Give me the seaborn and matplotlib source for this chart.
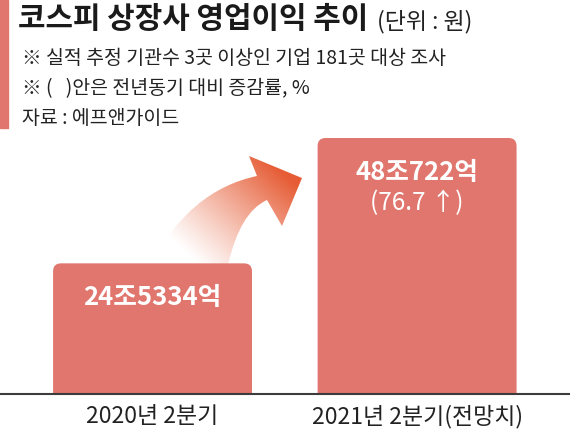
import numpy as np
import matplotlib
matplotlib.use('Agg')
import matplotlib.pyplot as plt
import matplotlib.colors as mcolors
import seaborn as sns
from matplotlib.path import Path
from matplotlib.patches import PathPatch, FancyBboxPatch, Rectangle

# data (조원)
periods = ['2020년 2분기', '2021년 2분기(전망치)']
profit = [24.5334, 48.0722]
profit_labels = ['24조5334억', '48조722억']
growth_labels = ['', '(76.7 ↑)']

title = '코스피 상장사 영업이익 추이'
unit = '(단위 : 원)'
notes = ['※ 실적 추정 기관수 3곳 이상인 기업 181곳 대상 조사',
         '※ (   )안은 전년동기 대비 증감률, %',
         '자료 : 에프앤가이드']

sns.set_theme(style='white')
plt.rcParams['font.family'] = ['Noto Sans CJK KR', 'DejaVu Sans']

bar_color = '#E0766E'
arrow_color = '#E65C35'
W, H = 570, 436

fig = plt.figure(figsize=(5.7, 4.36), dpi=100)

# decoration layer in pixel coordinates
deco = fig.add_axes([0, 0, 1, 1], zorder=0)
deco.axis('off')

# main chart
ax = fig.add_axes([0, 42 / H, 1, 256 / H], zorder=1)
ax.patch.set_alpha(0)
sns.barplot(x=periods, y=profit, color=bar_color, width=0.752, saturation=1, ax=ax)

# rounded top corners
for p in list(ax.patches):
    x0, w, h = p.get_x(), p.get_width(), p.get_height()
    ax.add_patch(FancyBboxPatch((x0, -5), w, h + 5,
                                boxstyle='round,pad=0,rounding_size=0.03',
                                mutation_aspect=50, fc=bar_color, ec='none'))
    p.remove()

ax.set_xlim(-0.5766, 1.578)
ax.set_ylim(0, profit[1])
ax.set_yticks([])
ax.set_xlabel('')
ax.set_ylabel('')
ax.set_xticks([0, 1])
ax.set_xticklabels(periods, fontsize=16.5, color='#222222')
ax.tick_params(axis='x', length=0, pad=8)
for s in ['left', 'top', 'right']:
    ax.spines[s].set_visible(False)
ax.spines['bottom'].set_color('#3c3c3c')
ax.spines['bottom'].set_linewidth(1.5)

for i, v in enumerate(profit):
    ax.annotate(profit_labels[i], (i, v), xytext=(0, -34 * 0.72), textcoords='offset points',
                ha='center', va='center', color='white', fontsize=18.5, fontweight='bold')
    if growth_labels[i]:
        ax.annotate(growth_labels[i], (i, v), xytext=(0, -65 * 0.72), textcoords='offset points',
                    ha='center', va='center', color='white', fontsize=17.5)

# curved gradient arrow
verts = [(150, 265), (190, 190), (257, 176),
         (249, 156), (302, 178), (282, 226), (267, 200),
         (240, 212), (228, 265), (150, 265)]
codes = [Path.MOVETO, Path.CURVE3, Path.CURVE3,
         Path.LINETO, Path.LINETO, Path.LINETO, Path.LINETO,
         Path.CURVE3, Path.CURVE3, Path.CLOSEPOLY]
gx, gy = np.meshgrid(np.linspace(140, 310, 200), np.linspace(150, 270, 150))
p0 = np.array([195, 262])
p1 = np.array([280, 170])
d = p1 - p0
t = ((gx - p0[0]) * d[0] + (gy - p0[1]) * d[1]) / (d @ d)
t = np.clip(t, 0, 1)
img = np.ones(gx.shape + (4,))
img[..., :3] = mcolors.to_rgb(arrow_color)
img[..., 3] = t ** 1.1
im = deco.imshow(img, extent=(140, 310, 270, 150), origin='upper', interpolation='bilinear')
patch = PathPatch(Path(verts, codes), fc='none', ec='none')
deco.add_patch(patch)
im.set_clip_path(patch)

# accent bar
deco.add_patch(Rectangle((0, 0), 8, 128, color=bar_color))
deco.set_aspect('auto')
deco.set_xlim(0, W)
deco.set_ylim(H, 0)

# header texts
fig.text(18 / W, 1 - 19 / H, title, fontsize=21.5, fontweight='heavy', color='#1a1a1a', va='center')
fig.text(377 / W, 1 - 22 / H, unit, fontsize=16.5, color='#222222', va='center')
for y, line in zip([58, 89, 118], notes):
    fig.text(22 / W, 1 - y / H, line, fontsize=14, color='#222222', va='center')

fig.savefig('out.png', dpi=100)
